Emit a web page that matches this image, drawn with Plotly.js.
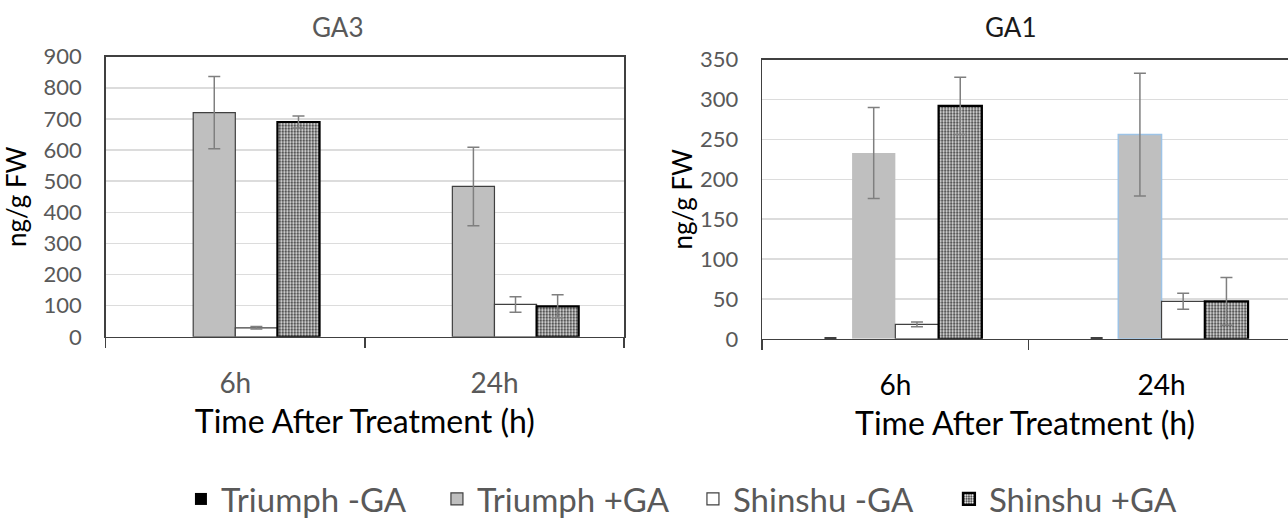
<!DOCTYPE html>
<html>
<head>
<meta charset="utf-8">
<script src="https://cdn.plot.ly/plotly-3.0.1.min.js"></script>
<style>
  html, body { margin: 0; padding: 0; background: #ffffff; }
  #chart { width: 1288px; height: 527px; }
</style>
</head>
<body>
<div id="chart"></div>
<script>
// ---- Data ----
const categories = ['6h', '24h'];
const seriesNames = ['Triumph -GA', 'Triumph +GA', 'Shinshu -GA', 'Shinshu +GA'];

// GA3 (ng/g FW)
const ga3TriumphMinus = [0, 0];
const ga3TriumphMinusErr = [0, 0];
const ga3TriumphPlus = [720, 483];
const ga3TriumphPlusErr = [116, 126];
const ga3ShinshuMinus = [29, 104];
const ga3ShinshuMinusErr = [4, 25];
const ga3ShinshuPlus = [690, 98];
const ga3ShinshuPlusErr = [19, 37];

// GA1 (ng/g FW)
const ga1TriumphMinus = [0, 0];
const ga1TriumphMinusErr = [1, 1];
const ga1TriumphPlus = [233, 256];
const ga1TriumphPlusErr = [57, 77];
const ga1ShinshuMinus = [18, 47];
const ga1ShinshuMinusErr = [3, 10];
const ga1ShinshuPlus = [292, 47];
const ga1ShinshuPlusErr = [36, 30];

const ga3YTicks = [0, 100, 200, 300, 400, 500, 600, 700, 800, 900];
const ga1YTicks = [0, 50, 100, 150, 200, 250, 300, 350];

// ---- Styles ----
const FONT = 'Lato, "Open Sans", sans-serif';
const GRAY_TXT = '#595959';
const ERR_COLOR = '#7f7f7f';

function errSpec(arr, color) {
  return {
    type: 'data', array: arr, visible: arr.some(v => v > 0),
    color: color || ERR_COLOR, thickness: 1.5, width: 6
  };
}

const styles = [
  { color: '#000000', line: { color: '#000000', width: 0 } },
  { color: '#bfbfbf', line: { color: '#404040', width: 1.2 } },
  { color: '#ffffff', line: { color: '#404040', width: 1.2 } },
  { color: '#3a3a3a', line: { color: '#000000', width: 2.2 },
    pattern: { shape: '.', bgcolor: '#333333', fgcolor: '#ffffff', size: 3, solidity: 0.45 } }
];

function bar(name, y, err, style, xa, ya, showlegend, errColor) {
  return {
    type: 'bar', name: name, x: categories, y: y,
    xaxis: xa, yaxis: ya, legendgroup: name, showlegend: showlegend,
    marker: style, error_y: errSpec(err, errColor), hoverinfo: 'x+y+name'
  };
}

const ga1TriumphPlusStyle = {
  color: '#bfbfbf',
  line: { color: ['rgba(0,0,0,0)', '#9dc3e6'], width: 1.5 }
};

const traces = [
  bar(seriesNames[0], ga3TriumphMinus, ga3TriumphMinusErr, styles[0], 'x', 'y', true),
  bar(seriesNames[1], ga3TriumphPlus, ga3TriumphPlusErr, styles[1], 'x', 'y', true),
  bar(seriesNames[2], ga3ShinshuMinus, ga3ShinshuMinusErr, styles[2], 'x', 'y', true),
  bar(seriesNames[3], ga3ShinshuPlus, ga3ShinshuPlusErr, styles[3], 'x', 'y', true),
  bar(seriesNames[0], ga1TriumphMinus, ga1TriumphMinusErr, styles[0], 'x2', 'y2', false, '#000000'),
  bar(seriesNames[1], ga1TriumphPlus, ga1TriumphPlusErr, ga1TriumphPlusStyle, 'x2', 'y2', false),
  bar(seriesNames[2], ga1ShinshuMinus, ga1ShinshuMinusErr, styles[2], 'x2', 'y2', false),
  bar(seriesNames[3], ga1ShinshuPlus, ga1ShinshuPlusErr, styles[3], 'x2', 'y2', false)
];

const xCommon = {
  type: 'category', showline: true, linecolor: '#404040', linewidth: 1.5,
  mirror: true, ticks: 'outside', tickson: 'boundaries', ticklen: 10,
  tickcolor: '#404040', tickwidth: 1.5, showgrid: false, zeroline: false,
  ticklabelstandoff: 21, fixedrange: true
};
const yCommon = {
  showline: true, linecolor: '#404040', linewidth: 1.5, ticks: '',
  showgrid: true, gridcolor: '#dcdcdc', gridwidth: 1.5, zeroline: false,
  ticklabelstandoff: 18, tickfont: { family: FONT, size: 22, color: GRAY_TXT },
  fixedrange: true
};

const layout = {
  width: 1288, height: 527,
  margin: { l: 0, r: 0, t: 0, b: 0 },
  paper_bgcolor: '#ffffff', plot_bgcolor: '#ffffff',
  barmode: 'group', bargap: 0.35, bargroupgap: 0,
  font: { family: FONT },
  showlegend: true,
  legend: {
    orientation: 'h', x: 0.538, xanchor: 'center', y: 0.042, yanchor: 'middle',
    font: { family: FONT, size: 33, color: GRAY_TXT },
    entrywidth: 211, entrywidthmode: 'pixels', traceorder: 'normal'
  },
  xaxis: Object.assign({}, xCommon, {
    domain: [0.0821, 0.4845], anchor: 'y', range: [-0.5, 1.5],
    tickfont: { family: FONT, size: 28, color: GRAY_TXT },
    title: { text: 'Time After Treatment (h)', standoff: 12,
             font: { family: FONT, size: 32, color: '#000000' } }
  }),
  yaxis: Object.assign({}, yCommon, {
    domain: [0.3535, 0.8913], anchor: 'x', range: [0, 900], tickvals: ga3YTicks,
    mirror: true,
    title: { text: 'ng/g FW', standoff: 12, font: { family: FONT, size: 26, color: '#000000' } }
  }),
  xaxis2: Object.assign({}, xCommon, {
    domain: [0.5918, 1], anchor: 'y2', range: [-0.5, 1.475], mirror: true,
    tickfont: { family: FONT, size: 28, color: '#000000' },
    title: { text: 'Time After Treatment (h)', standoff: 12,
             font: { family: FONT, size: 32, color: '#000000' } }
  }),
  yaxis2: Object.assign({}, yCommon, {
    domain: [0.3497, 0.8856], anchor: 'x2', range: [0, 350], tickvals: ga1YTicks,
    mirror: false,
    title: { text: 'ng/g FW', standoff: 0, font: { family: FONT, size: 26, color: '#000000' } }
  }),
  annotations: [
    { text: 'GA3', xref: 'paper', yref: 'paper', x: 0.2624, y: 0.9488,
      xanchor: 'center', yanchor: 'middle', showarrow: false,
      font: { family: FONT, size: 26, color: GRAY_TXT } },
    { text: 'GA1', xref: 'paper', yref: 'paper', x: 0.7846, y: 0.9488,
      xanchor: 'center', yanchor: 'middle', showarrow: false,
      font: { family: FONT, size: 26, color: '#1a1a1a' } }
  ]
};

Plotly.newPlot('chart', traces, layout, { displayModeBar: false, staticPlot: true });
</script>
</body>
</html>
